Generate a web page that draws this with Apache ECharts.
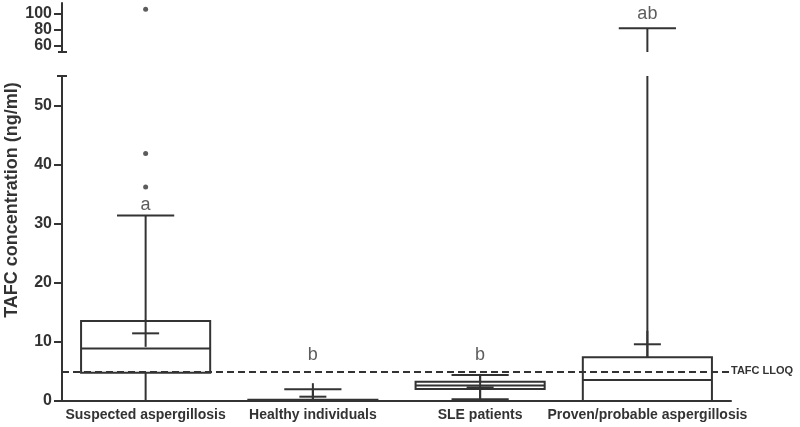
<!DOCTYPE html>
<html><head><meta charset="utf-8">
<script src="https://cdn.jsdelivr.net/npm/echarts@6/dist/echarts.min.js"></script>
<style>html,body{margin:0;padding:0;background:#fff}#c{width:800px;height:427px}</style>
</head><body><div id="c"></div>
<script>
// ---- data ----
const categories = ['Suspected aspergillosis', 'Healthy individuals', 'SLE patients', 'Proven/probable aspergillosis'];
const whiskerLow = [0, 0, 0.3, 0];
const q1 = [4.8, 0, 2.03, 0];
const medians = [8.9, 0, 2.64, 3.55];
const q3 = [13.55, 0.2, 3.27, 7.4];
const whiskerHigh = [31.4, 1.97, 4.4, 81.5];
const means = [11.45, 0.73, 2.3, 9.6];
const outlierCategory = [0, 0, 0];
const outlierValues = [41.9, 36.2, 105];
const letters = ['a', 'b', 'b', 'ab'];
const letterValues = [33.1, 7.8, 7.8, 99];
const lloq = 5;
const lowerTicks = [0, 10, 20, 30, 40, 50];
const upperTicks = [60, 80, 100];
const LOWER_MIN = 0, LOWER_MAX = 55;
const UPPER_MIN = 52.2, UPPER_MAX = 112.7;

// ---- style ----
const LINE = '#333';
const FONT = '"Liberation Sans", Arial, sans-serif';
const GRID_LEFT = 62, GRID_RIGHT = 69;

const chart = echarts.init(document.getElementById('c'), null, {renderer: 'canvas'});

function mkLine(children, x1, y1, x2, y2) {
  children.push({type: 'line', shape: {x1, y1, x2, y2}, style: {stroke: LINE, lineWidth: 2}});
}

function renderLower(params, api) {
  const i = api.value(0);
  const band = api.size([1, 0])[0];
  const boxW = band * 0.772, capW = band * 0.342, meanW = 27;
  const x = api.coord([i, 0])[0];
  const y = v => api.coord([i, v])[1];
  const hi = Math.min(whiskerHigh[i], LOWER_MAX);
  const ch = [];
  ch.push({type: 'rect', shape: {x: x - boxW / 2, y: y(q3[i]), width: boxW, height: y(q1[i]) - y(q3[i])},
    style: {stroke: LINE, lineWidth: 2, fill: null}});
  mkLine(ch, x - boxW / 2, y(medians[i]), x + boxW / 2, y(medians[i]));
  mkLine(ch, x, y(q3[i]), x, y(hi));
  if (whiskerHigh[i] <= LOWER_MAX) mkLine(ch, x - capW / 2, y(hi), x + capW / 2, y(hi));
  mkLine(ch, x, y(q1[i]), x, y(whiskerLow[i]));
  mkLine(ch, x - capW / 2, y(whiskerLow[i]), x + capW / 2, y(whiskerLow[i]));
  const ym = y(means[i]);
  mkLine(ch, x - meanW / 2, ym, x + meanW / 2, ym);
  mkLine(ch, x, ym - meanW / 2, x, ym + meanW / 2);
  return {type: 'group', children: ch};
}

function renderUpper(params, api) {
  const i = api.value(0);
  const band = api.size([1, 0])[0];
  const capW = band * 0.342;
  const x = api.coord([i, 0])[0];
  const y = v => api.coord([i, v])[1];
  const ch = [];
  if (whiskerHigh[i] > UPPER_MIN) {
    mkLine(ch, x, y(UPPER_MIN), x, y(whiskerHigh[i]));
    mkLine(ch, x - capW / 2, y(whiskerHigh[i]), x + capW / 2, y(whiskerHigh[i]));
  }
  return {type: 'group', children: ch};
}

const boxData = categories.map((c, i) => [i, q3[i]]);
const lowerOutliers = [], upperOutliers = [];
outlierValues.forEach((v, k) => (v > LOWER_MAX ? upperOutliers : lowerOutliers).push([outlierCategory[k], v]));
const lowerLetters = [], upperLetters = [];
letterValues.forEach((v, i) => (v > LOWER_MAX ? upperLetters : lowerLetters).push({value: [i, v], name: letters[i]}));

const letterLabel = {show: true, position: 'inside', formatter: p => p.name, fontFamily: FONT, fontSize: 18, color: '#333'};

const option = {
  animation: false,
  backgroundColor: '#fff',
  textStyle: {fontFamily: FONT},
  grid: [
    {left: GRID_LEFT, right: GRID_RIGHT, top: 3, height: 49},
    {left: GRID_LEFT, right: GRID_RIGHT, top: 76, bottom: 26}
  ],
  xAxis: [
    {type: 'category', gridIndex: 0, data: categories, show: false},
    {type: 'category', gridIndex: 1, data: categories,
      axisLine: {lineStyle: {color: LINE, width: 2}},
      axisTick: {show: false},
      axisLabel: {interval: 0, fontFamily: FONT, fontSize: 14, fontWeight: 'bold', color: '#333', margin: 7}}
  ],
  yAxis: [
    {type: 'value', gridIndex: 0, min: UPPER_MIN, max: UPPER_MAX,
      axisLine: {show: true, lineStyle: {color: LINE, width: 2}},
      axisTick: {show: true, length: 8, lineStyle: {color: LINE, width: 2}, customValues: upperTicks},
      axisLabel: {customValues: upperTicks, fontFamily: FONT, fontSize: 16, fontWeight: 'bold', color: '#333', margin: 10},
      splitLine: {show: false}},
    {type: 'value', gridIndex: 1, min: LOWER_MIN, max: LOWER_MAX,
      axisLine: {show: true, lineStyle: {color: LINE, width: 2}},
      axisTick: {show: true, length: 8, lineStyle: {color: LINE, width: 2}, customValues: lowerTicks},
      axisLabel: {customValues: lowerTicks, fontFamily: FONT, fontSize: 16, fontWeight: 'bold', color: '#333', margin: 10},
      splitLine: {show: false}}
  ],
  graphic: [
    {type: 'text', x: 12, y: 200, rotation: Math.PI / 2,
      style: {text: 'TAFC concentration (ng/ml)', font: 'bold 18px ' + FONT, fill: '#333', align: 'center', verticalAlign: 'middle'}}
  ],
  series: [
    {type: 'custom', xAxisIndex: 1, yAxisIndex: 1, data: boxData, encode: {x: 0, y: 1}, renderItem: renderLower, clip: true, z: 3},
    {type: 'custom', xAxisIndex: 0, yAxisIndex: 0, data: boxData, encode: {x: 0, y: 1}, renderItem: renderUpper, clip: true, z: 3},
    {type: 'scatter', xAxisIndex: 1, yAxisIndex: 1, data: lowerOutliers, symbol: 'circle', symbolSize: 5,
      itemStyle: {color: '#333'}, silent: true,
      markLine: {silent: true, symbol: 'none', data: [{yAxis: lloq}],
        lineStyle: {color: LINE, width: 2, type: [7, 4]},
        label: {show: true, position: 'end', formatter: 'TAFC LLOQ', fontFamily: FONT, fontSize: 11, fontWeight: 'bold', color: '#333', distance: 0, padding: [0, 0, 14, 0]}}},
    {type: 'scatter', xAxisIndex: 0, yAxisIndex: 0, data: upperOutliers, symbol: 'circle', symbolSize: 5,
      itemStyle: {color: '#333'}, silent: true},
    {type: 'scatter', xAxisIndex: 1, yAxisIndex: 1, data: lowerLetters, symbolSize: 0, label: letterLabel, silent: true, z: 4},
    {type: 'scatter', xAxisIndex: 0, yAxisIndex: 0, data: upperLetters, symbolSize: 0, label: letterLabel, silent: true, z: 4}
  ]
};
chart.setOption(option);

// axis-break stubs at the ends of both y-axis segments
const yUpperBottom = chart.convertToPixel({yAxisIndex: 0}, UPPER_MIN);
const yLowerTop = chart.convertToPixel({yAxisIndex: 1}, LOWER_MAX);
chart.setOption({graphic: [
  option.graphic[0],
  {type: 'line', shape: {x1: GRID_LEFT - 4, y1: yUpperBottom, x2: GRID_LEFT + 5, y2: yUpperBottom}, style: {stroke: LINE, lineWidth: 2}},
  {type: 'line', shape: {x1: GRID_LEFT - 5, y1: yLowerTop, x2: GRID_LEFT + 5, y2: yLowerTop}, style: {stroke: LINE, lineWidth: 2}}
]});
</script>
</body></html>
